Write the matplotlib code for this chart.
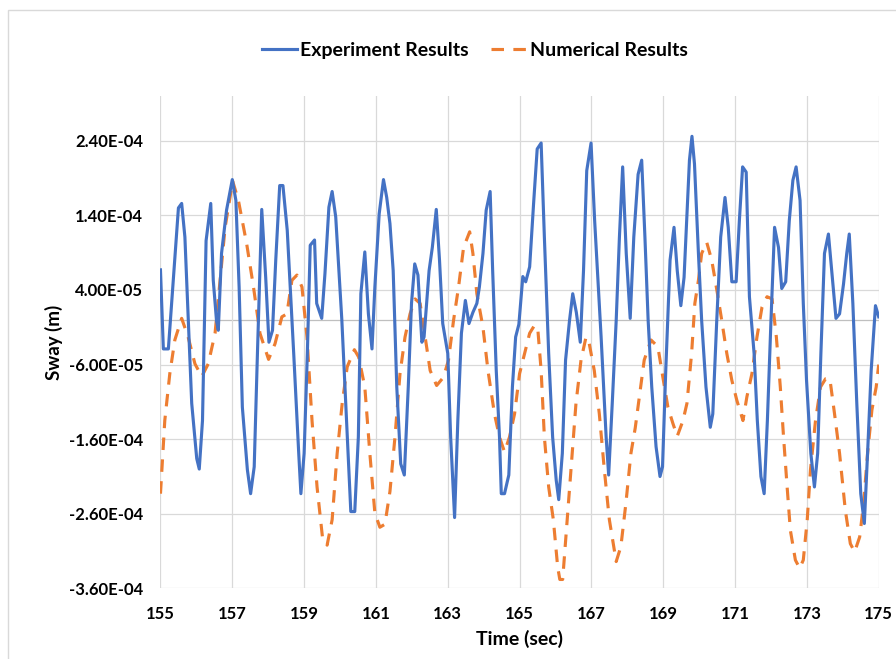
import numpy as np
import matplotlib
matplotlib.use("Agg")
import matplotlib.pyplot as plt
from matplotlib.patches import Rectangle
from matplotlib.ticker import FuncFormatter

# Experiment results (time in sec, sway in 1e-4 m)
exp_t = [155.00, 155.08, 155.22, 155.50, 155.59, 155.68, 155.87, 156.01, 156.08, 156.17,
         156.27, 156.40, 156.47, 156.56, 156.61, 156.70, 156.84, 157.00, 157.10, 157.19,
         157.28, 157.42, 157.51, 157.61, 157.70, 157.82, 157.93, 158.02, 158.12, 158.21,
         158.32, 158.41, 158.53, 158.71, 158.85, 158.91, 159.00, 159.09, 159.17, 159.29,
         159.35, 159.49, 159.58, 159.69, 159.78, 159.88, 160.05, 160.18, 160.30, 160.41,
         160.51, 160.58, 160.69, 160.79, 160.89, 160.97, 161.09, 161.21, 161.30, 161.39,
         161.48, 161.58, 161.69, 161.79, 161.90, 161.99, 162.08, 162.17, 162.28, 162.34,
         162.48, 162.57, 162.68, 162.77, 162.86, 163.00, 163.08, 163.19, 163.28, 163.38,
         163.49, 163.59, 163.70, 163.81, 163.88, 163.98, 164.07, 164.18, 164.25, 164.35,
         164.44, 164.49, 164.58, 164.70, 164.80, 164.89, 164.98, 165.09, 165.17, 165.28,
         165.39, 165.49, 165.60, 165.69, 165.81, 165.92, 166.02, 166.09, 166.19, 166.28,
         166.39, 166.48, 166.58, 166.69, 166.78, 166.87, 166.99, 167.09, 167.27, 167.41,
         167.48, 167.58, 167.69, 167.78, 167.87, 167.97, 168.08, 168.18, 168.30, 168.40,
         168.49, 168.58, 168.68, 168.80, 168.91, 168.98, 169.07, 169.19, 169.30, 169.39,
         169.49, 169.58, 169.66, 169.73, 169.80, 169.87, 169.98, 170.07, 170.19, 170.31,
         170.38, 170.49, 170.60, 170.72, 170.81, 170.91, 171.03, 171.12, 171.21, 171.31,
         171.40, 171.53, 171.62, 171.72, 171.81, 171.90, 172.00, 172.10, 172.21, 172.30,
         172.41, 172.51, 172.61, 172.70, 172.81, 172.90, 172.99, 173.11, 173.21, 173.30,
         173.39, 173.49, 173.60, 173.69, 173.81, 173.91, 174.02, 174.11, 174.18, 174.28,
         174.39, 174.50, 174.60, 174.69, 174.79, 174.91, 175.00]
exp_v = [0.67, -0.39, -0.39, 1.50, 1.56, 1.11, -1.12, -1.86, -2.00, -1.35,
         1.06, 1.56, 0.53, -0.01, -0.14, 0.89, 1.47, 1.88, 1.60, 0.44,
         -1.17, -2.01, -2.33, -1.97, -0.45, 1.48, 0.57, -0.30, -0.14, 0.80,
         1.80, 1.80, 1.20, -0.45, -1.79, -2.33, -1.79, -0.45, 1.00, 1.07,
         0.22, 0.02, 0.62, 1.51, 1.72, 1.38, 0.00, -1.35, -2.57, -2.57,
         -1.57, 0.35, 0.91, 0.08, -0.39, 0.44, 1.42, 1.88, 1.64, 1.29,
         0.66, -0.90, -1.93, -2.08, -0.90, 0.22, 0.75, 0.60, -0.30, -0.23,
         0.66, 0.97, 1.48, 0.80, -0.05, -0.45, -1.57, -2.65, -1.35, -0.18,
         0.26, -0.05, 0.10, 0.22, 0.44, 0.89, 1.47, 1.72, 0.66, -0.68,
         -1.57, -2.33, -2.33, -2.08, -0.90, -0.23, -0.06, 0.58, 0.51, 0.71,
         1.56, 2.29, 2.37, 1.11, -0.45, -1.57, -2.15, -2.41, -1.79, -0.54,
         -0.01, 0.35, 0.10, -0.30, 0.66, 2.00, 2.37, 1.33, -0.23, -1.57,
         -2.08, -1.12, -0.01, 1.11, 2.05, 0.89, 0.02, 1.11, 1.95, 2.14,
         1.11, -0.01, -0.90, -1.70, -2.10, -1.97, -0.68, 0.80, 1.24, 0.66,
         0.19, 0.57, 1.42, 2.14, 2.46, 2.09, 0.89, -0.01, -0.90, -1.44,
         -1.26, -0.01, 1.11, 1.64, 1.24, 0.51, 0.51, 1.33, 2.05, 1.98,
         0.31, -0.45, -1.35, -2.10, -2.33, -1.35, -0.01, 1.24, 0.97, 0.42,
         0.51, 1.33, 1.87, 2.05, 1.60, 0.22, -0.81, -1.79, -2.24, -1.79,
         -0.45, 0.89, 1.15, 0.66, 0.02, 0.08, 0.48, 0.89, 1.15, 0.22,
         -1.12, -2.33, -2.73, -1.79, -0.68, 0.19, 0.04]

# Numerical results (time in sec, sway in 1e-4 m)
num_t = [155.00, 155.12, 155.26, 155.40, 155.59, 155.77, 155.96, 156.15, 156.33, 156.52,
         156.66, 156.80, 157.01, 157.17, 157.40, 157.59, 157.77, 158.01, 158.19, 158.38,
         158.52, 158.66, 158.80, 158.94, 159.08, 159.22, 159.36, 159.51, 159.64, 159.78,
         159.92, 160.06, 160.20, 160.40, 160.52, 160.69, 160.83, 160.97, 161.11, 161.25,
         161.39, 161.53, 161.67, 161.81, 161.95, 162.09, 162.23, 162.37, 162.51, 162.69,
         162.88, 163.02, 163.16, 163.30, 163.44, 163.61, 163.70, 163.81, 163.98, 164.12,
         164.30, 164.44, 164.58, 164.72, 164.86, 165.00, 165.14, 165.28, 165.42, 165.51,
         165.60, 165.69, 165.81, 165.94, 166.06, 166.12, 166.20, 166.29, 166.43, 166.57,
         166.71, 166.85, 166.94, 167.08, 167.22, 167.36, 167.50, 167.69, 167.82, 167.96,
         168.10, 168.22, 168.34, 168.47, 168.66, 168.85, 168.99, 169.13, 169.27, 169.39,
         169.55, 169.66, 169.79, 169.88, 169.98, 170.07, 170.21, 170.35, 170.51, 170.63,
         170.77, 170.91, 171.05, 171.22, 171.33, 171.47, 171.61, 171.75, 171.89, 172.03,
         172.15, 172.26, 172.35, 172.45, 172.54, 172.68, 172.80, 172.90, 173.01, 173.10,
         173.24, 173.38, 173.52, 173.64, 173.77, 173.91, 174.07, 174.21, 174.33, 174.47,
         174.58, 174.69, 174.81, 174.93, 175.00]
num_v = [-2.33, -1.35, -0.72, -0.27, 0.02, -0.23, -0.59, -0.76, -0.59, -0.18,
         0.53, 1.24, 1.86, 1.60, 1.02, 0.44, -0.18, -0.53, -0.32, 0.04,
         0.08, 0.53, 0.60, 0.44, -0.23, -1.35, -2.24, -2.91, -3.02, -2.68,
         -1.79, -1.12, -0.63, -0.40, -0.50, -0.90, -1.79, -2.59, -2.78, -2.74,
         -2.30, -1.57, -0.72, -0.23, 0.08, 0.28, 0.22, -0.23, -0.68, -0.88,
         -0.77, -0.54, -0.01, 0.44, 0.97, 1.18, 0.89, 0.35, -0.10, -0.68,
         -1.26, -1.57, -1.77, -1.57, -1.26, -0.72, -0.45, -0.18, -0.07, -0.14,
         -0.68, -1.57, -2.24, -2.68, -3.31, -3.48, -3.48, -2.91, -2.01, -1.12,
         -0.54, -0.23, -0.32, -0.68, -1.26, -2.01, -2.68, -3.24, -3.04, -2.46,
         -1.79, -1.45, -1.01, -0.54, -0.27, -0.36, -0.77, -1.17, -1.39, -1.56,
         -1.35, -1.12, -0.45, 0.22, 0.53, 0.89, 1.04, 0.80, 0.35, -0.01,
         -0.45, -0.81, -1.08, -1.35, -1.03, -0.72, -0.23, 0.17, 0.31, 0.28,
         -0.23, -0.90, -1.57, -2.24, -2.82, -3.22, -3.33, -3.22, -2.68, -2.01,
         -1.35, -0.90, -0.79, -0.79, -1.26, -1.79, -2.55, -3.00, -3.11, -2.91,
         -2.46, -1.79, -1.21, -0.90, -0.60]

x_ticks = [155, 157, 159, 161, 163, 165, 167, 169, 171, 173, 175]
y_ticks = [-3.6e-4, -2.6e-4, -1.6e-4, -6e-5, 4e-5, 1.4e-4, 2.4e-4]

font = "Lato"
grid_color = "#D9D9D9"

fig = plt.figure(figsize=(8.96, 6.59), dpi=100)
ax = fig.add_axes([0.1791, 0.1071, 0.8016, 0.7472])

ax.plot(exp_t, np.array(exp_v) * 1e-4, color="#4472C4", lw=2.25,
        solid_joinstyle="round", label="Experiment Results", zorder=3)
ax.plot(num_t, np.array(num_v) * 1e-4, color="#ED7D31", lw=2.25,
        linestyle=(0, (4, 3)), dash_capstyle="butt", label="Numerical Results", zorder=2)

ax.set_xlim(155, 175)
ax.set_ylim(-3.6e-4, 3.0e-4)
ax.set_xticks(x_ticks)
ax.set_yticks(y_ticks)
ax.yaxis.set_major_formatter(FuncFormatter(lambda v, p: f"{v:.2E}"))
ax.grid(True, color=grid_color, lw=0.9, zorder=0)
ax.axhline(0, color="#BFBFBF", lw=0.9, zorder=1)
for s in ax.spines.values():
    s.set_visible(False)
ax.tick_params(length=0, pad=12.5, labelsize=12)
for lab in ax.get_xticklabels() + ax.get_yticklabels():
    lab.set_fontfamily(font)
    lab.set_fontweight("bold")

ax.set_xlabel("Time (sec)", fontsize=14, fontweight="bold", family=font)
ax.set_ylabel("Sway (m)", fontsize=13.5, fontweight="bold", family=font)
ax.xaxis.set_label_coords(0.5, -0.103)
ax.yaxis.set_label_coords(-0.148, 0.5)
ax.xaxis.label.set_va("center")
ax.yaxis.label.set_va("center")

fig.legend(loc="center", bbox_to_anchor=(0.530, 0.924), ncol=2, frameon=False,
           handlelength=1.8, handletextpad=0.2, columnspacing=1.15,
           prop={"family": font, "weight": "bold", "size": 14})

# chart area border (only top and left visible in the crop)
fig.patches.append(Rectangle((7.5 / 896, -0.1), 2, 1 - 9.5 / 659 + 0.1,
                             transform=fig.transFigure, fill=False,
                             edgecolor=grid_color, lw=1.0))

fig.savefig("out.png", dpi=100)
